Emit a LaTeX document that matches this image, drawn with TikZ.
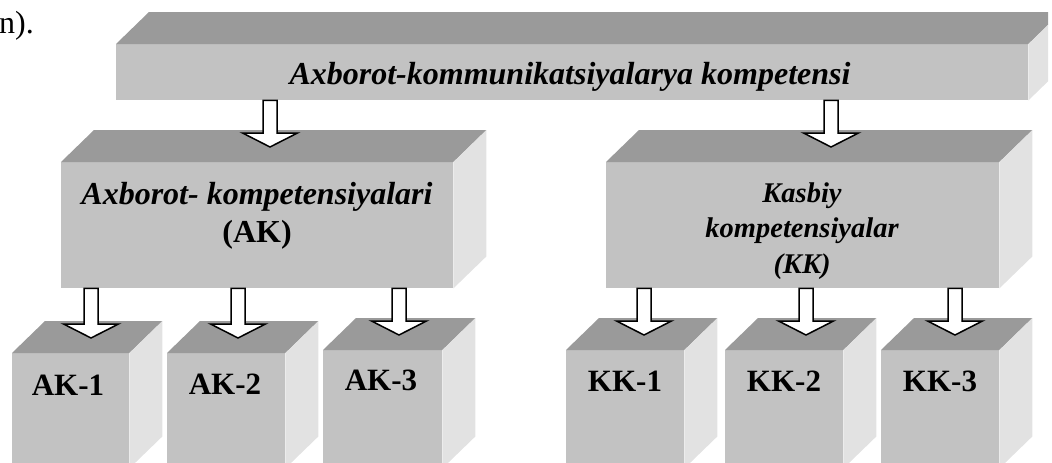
\documentclass[tikz,border=0pt]{standalone}
\usepackage{fontspec}
\setmainfont{Liberation Serif}
\usetikzlibrary{calc}
\definecolor{facefront}{HTML}{C2C2C2}
\definecolor{facetop}{HTML}{9A9A9A}
\definecolor{faceside}{HTML}{E2E2E2}

\begin{document}
\begin{tikzpicture}[x=1pt, y=-1pt]
    \tikzset{front/.style = {rectangle, fill=facefront, inner sep=0pt, anchor=north west}}
    \tikzset{topface/.style = {fill=facetop}}
    \tikzset{sideface/.style = {fill=faceside}}
    \tikzset{blockarrow/.style = {draw=black, fill=white, line width=1.5pt, line join=miter}}
    \tikzset{headtext/.style = {font=\fontsize{32}{38}\selectfont\bfseries\itshape, inner sep=0pt}}
    \tikzset{celltext/.style = {font=\fontsize{31}{36}\selectfont\bfseries, inner sep=0pt, anchor=base}}

    \useasboundingbox (0,0) rectangle (1052,463);
    \clip (0,0) rectangle (1048,463);

    % boxes
    \node[front, minimum width=912pt, minimum height=56pt]  (top) at (116,44) {};
    \node[front, minimum width=392pt, minimum height=126pt] (ak)  at (61,162) {};
    \node[front, minimum width=393pt, minimum height=126pt] (kk)  at (606,162) {};
    \node[front, minimum width=117pt, minimum height=115pt] (ak1) at (12,353) {};
    \node[front, minimum width=118pt, minimum height=115pt] (ak2) at (167,353) {};
    \node[front, minimum width=119pt, minimum height=118pt] (ak3) at (323,350) {};
    \node[front, minimum width=118pt, minimum height=118pt] (kk1) at (566,350) {};
    \node[front, minimum width=118pt, minimum height=118pt] (kk2) at (725,350) {};
    \node[front, minimum width=118pt, minimum height=118pt] (kk3) at (881,350) {};

    % depth faces
    \foreach \n in {top,ak,kk,ak1,ak2,ak3,kk1,kk2,kk3} {
        \fill[topface] (\n.north west) -- ++(33,-32) -- ($(\n.north east)+(33,-32)$) -- (\n.north east) -- cycle;
        \fill[sideface] (\n.north east) -- ++(33,-32) -- ($(\n.south east)+(33,-32)$) -- (\n.south east) -- cycle;
    }

    % arrows
    \foreach \src/\dst/\x in {top/ak/270, top/kk/831, ak/ak1/91, ak/ak2/238, ak/ak3/399, kk/kk1/644, kk/kk2/806, kk/kk3/955} {
        \coordinate (s) at (\x,0 |- \src.south);
        \coordinate (t) at (\x,0 |- \dst.north);
        \draw[blockarrow] ($(s)+(-7,0)$) -- ($(t)+(-7,-29)$) -- ($(t)+(-27.5,-29)$) -- ($(t)+(0,-15)$)
            -- ($(t)+(27.5,-29)$) -- ($(t)+(7,-29)$) -- ($(s)+(7,0)$) -- cycle;
    }

    % labels
    \node[font=\fontsize{32}{38}\selectfont, inner sep=0pt, anchor=base west] (frag) at (-1,33) {n).};
    \node[headtext, anchor=base] (toplabel) at (570,84) {Axborot-kommunikatsiyalarya kompetensi};
    \node[headtext, align=center] (aklabel) at (257,215.5) {Axborot- kompetensiyalari\\{\upshape (AK)}};
    \node[headtext, align=center, font=\fontsize{28.5}{35.5}\selectfont\bfseries\itshape] (kklabel) at (802,231) {Kasbiy\\kompetensiyalar\\(KK)};
    \node[celltext] (ak1label) at (68,395) {AK-1};
    \node[celltext] (ak2label) at (225,394) {AK-2};
    \node[celltext] (ak3label) at (381,390) {AK-3};
    \node[celltext] (kk1label) at (625,391) {KK-1};
    \node[celltext] (kk2label) at (784,391) {KK-2};
    \node[celltext] (kk3label) at (940,391) {KK-3};
\end{tikzpicture}
\end{document}
